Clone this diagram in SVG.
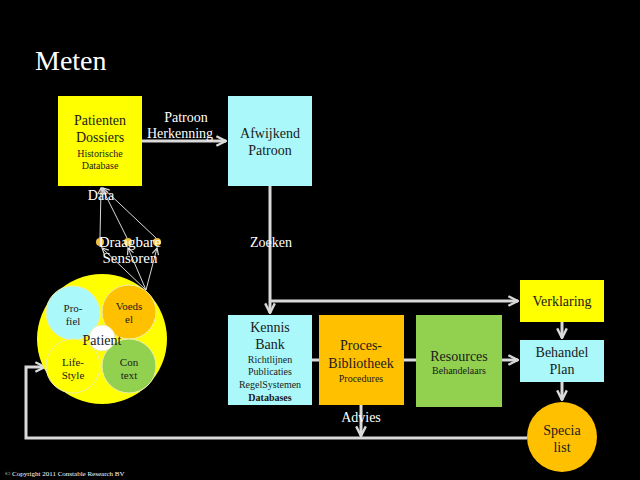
<svg xmlns="http://www.w3.org/2000/svg" width="640" height="480" viewBox="0 0 640 480">
<defs>
<marker id="ah" viewBox="0 0 10 10" refX="9" refY="5" markerWidth="4" markerHeight="4" orient="auto" markerUnits="strokeWidth">
<path d="M1,1 L9,5 L1,9" fill="none" stroke="#d9d9d9" stroke-width="2"/>
</marker>
<marker id="ahs" viewBox="0 0 10 10" refX="9" refY="5" markerWidth="8" markerHeight="8" orient="auto" markerUnits="strokeWidth">
<path d="M1,1 L9,5 L1,9" fill="none" stroke="#d9d9d9" stroke-width="1.5"/>
</marker>
<style>
text{font-family:"Liberation Serif","Times New Roman",serif;text-anchor:middle}
.w{fill:#ffffff}
.k{fill:#1a1a1a}
.big{font-size:14px}
.sm{font-size:10px}
.lbl{font-size:14px;fill:#ffffff}
.c{stroke:#d9d9d9;stroke-width:3;fill:none}
.t{stroke:#d9d9d9;stroke-width:1;fill:none}
</style>
</defs>
<rect width="640" height="480" fill="#000000"/>
<text x="35" y="70" class="w" style="font-size:28px;text-anchor:start">Meten</text>

<g id="connectors">
<line class="c" x1="142" y1="141" x2="226" y2="141" marker-end="url(#ah)"/>
<polyline class="c" points="270,186 270,313" marker-end="url(#ah)"/>
<polyline class="c" points="270,301 518,301" marker-end="url(#ah)"/>
<line class="c" x1="312" y1="360" x2="319" y2="360"/>
<line class="c" x1="404" y1="360" x2="416" y2="360"/>
<line class="c" x1="502" y1="360" x2="518" y2="360" marker-end="url(#ah)"/>
<line class="c" x1="562" y1="322" x2="562" y2="338" marker-end="url(#ah)"/>
<line class="c" x1="562" y1="382" x2="562" y2="400" marker-end="url(#ah)"/>
<line class="c" x1="361" y1="405" x2="361" y2="436" marker-end="url(#ah)"/>
<polyline class="c" points="527,438 26,438 26,367 45,367" marker-end="url(#ah)"/>
<line class="t" x1="100" y1="238" x2="101" y2="188" marker-end="url(#ahs)"/>
<line class="t" x1="127" y1="238" x2="102" y2="188" marker-end="url(#ahs)"/>
<line class="t" x1="156" y1="238" x2="103" y2="188" marker-end="url(#ahs)"/>
<line class="t" x1="146" y1="290" x2="102" y2="248" marker-end="url(#ahs)"/>
<line class="t" x1="146" y1="290" x2="128" y2="248" marker-end="url(#ahs)"/>
<line class="t" x1="146" y1="290" x2="157" y2="248" marker-end="url(#ahs)"/>
<text x="186" y="122" class="lbl">Patroon</text>
<text x="180" y="138" class="lbl">Herkenning</text>
<text x="271" y="247" class="lbl">Zoeken</text>
<text x="361" y="422" class="lbl">Advies</text>
<text x="101" y="200" class="lbl">Data</text>
</g>

<g id="patienten-dossiers">
<rect x="58" y="96" width="84" height="90" fill="#ffff00"/>
<text x="100" y="125" class="big k">Patienten</text>
<text x="100" y="142" class="big k">Dossiers</text>
<text x="100" y="157" class="sm k">Historische</text>
<text x="100" y="169" class="sm k">Database</text>
</g>

<g id="afwijkend-patroon">
<rect x="228" y="96" width="84" height="90" fill="#aaf8fa"/>
<text x="270" y="138" class="big k">Afwijkend</text>
<text x="270" y="155" class="big k">Patroon</text>
</g>

<g id="kennis-bank">
<rect x="228" y="315" width="84" height="90" fill="#aaf8fa"/>
<text x="270" y="332" class="big k">Kennis</text>
<text x="270" y="349" class="big k">Bank</text>
<text x="270" y="363" class="sm k">Richtlijnen</text>
<text x="270" y="375" class="sm k">Publicaties</text>
<text x="270" y="388" class="sm k">RegelSystemen</text>
<text x="270" y="401" class="sm k" font-weight="bold">Databases</text>
</g>

<g id="proces-bibliotheek">
<rect x="319" y="315" width="85" height="90" fill="#ffc000"/>
<text x="361" y="350" class="big k">Proces-</text>
<text x="361" y="368" class="big k">Bibliotheek</text>
<text x="361" y="382" class="sm k">Procedures</text>
</g>

<g id="resources">
<rect x="416" y="315" width="86" height="92" fill="#92d050"/>
<text x="459" y="361" class="big k">Resources</text>
<text x="459" y="374" class="sm k">Behandelaars</text>
</g>

<g id="verklaring">
<rect x="520" y="280" width="84" height="42" fill="#ffff00"/>
<text x="562" y="306" class="big k">Verklaring</text>
</g>

<g id="behandel-plan">
<rect x="520" y="340" width="84" height="42" fill="#aaf8fa"/>
<text x="562" y="357" class="big k">Behandel</text>
<text x="562" y="374" class="big k">Plan</text>
</g>

<g id="specialist">
<circle cx="562" cy="437" r="35" fill="#ffc000"/>
<text x="562" y="435" class="big k">Specia</text>
<text x="562" y="452" class="big k">list</text>
</g>

<g id="draagbare-sensoren">
<circle cx="100" cy="242" r="4" fill="#f0c040"/>
<circle cx="128" cy="242" r="4" fill="#f0c040"/>
<circle cx="157" cy="242" r="4" fill="#f0c040"/>
<text x="130" y="247" class="w" font-size="15">Draagbare</text>
<text x="130" y="263" class="w" font-size="15">Sensoren</text>
</g>

<g id="patient">
<circle cx="102" cy="339" r="65" fill="#ffff00"/>
<circle cx="73" cy="313" r="27" fill="#aaf8fa" stroke="#eeeeaa" stroke-width="1"/>
<circle cx="129" cy="312" r="27" fill="#ffc000" stroke="#eeeeaa" stroke-width="1"/>
<circle cx="73" cy="366" r="27" fill="#ffff00" stroke="#eeeeaa" stroke-width="1"/>
<circle cx="129" cy="366" r="27" fill="#92d050" stroke="#eeeeaa" stroke-width="1"/>
<circle cx="102" cy="338" r="13" fill="#ffffff" stroke="#eeeeaa" stroke-width="1"/>
<text x="73" y="312" class="k" font-size="11">Pro-</text>
<text x="73" y="325" class="k" font-size="11">fiel</text>
<text x="129" y="310" class="k" font-size="11">Voeds</text>
<text x="129" y="323" class="k" font-size="11">el</text>
<text x="73" y="366" class="k" font-size="11">Life-</text>
<text x="73" y="379" class="k" font-size="11">Style</text>
<text x="129" y="366" class="k" font-size="11">Con</text>
<text x="129" y="379" class="k" font-size="11">text</text>
<text x="102" y="345" class="k big">Patient</text>
</g>

<text x="5" y="476" class="w" style="font-size:7px;text-anchor:start">© Copyright 2011 Constable Research BV</text>
</svg>
